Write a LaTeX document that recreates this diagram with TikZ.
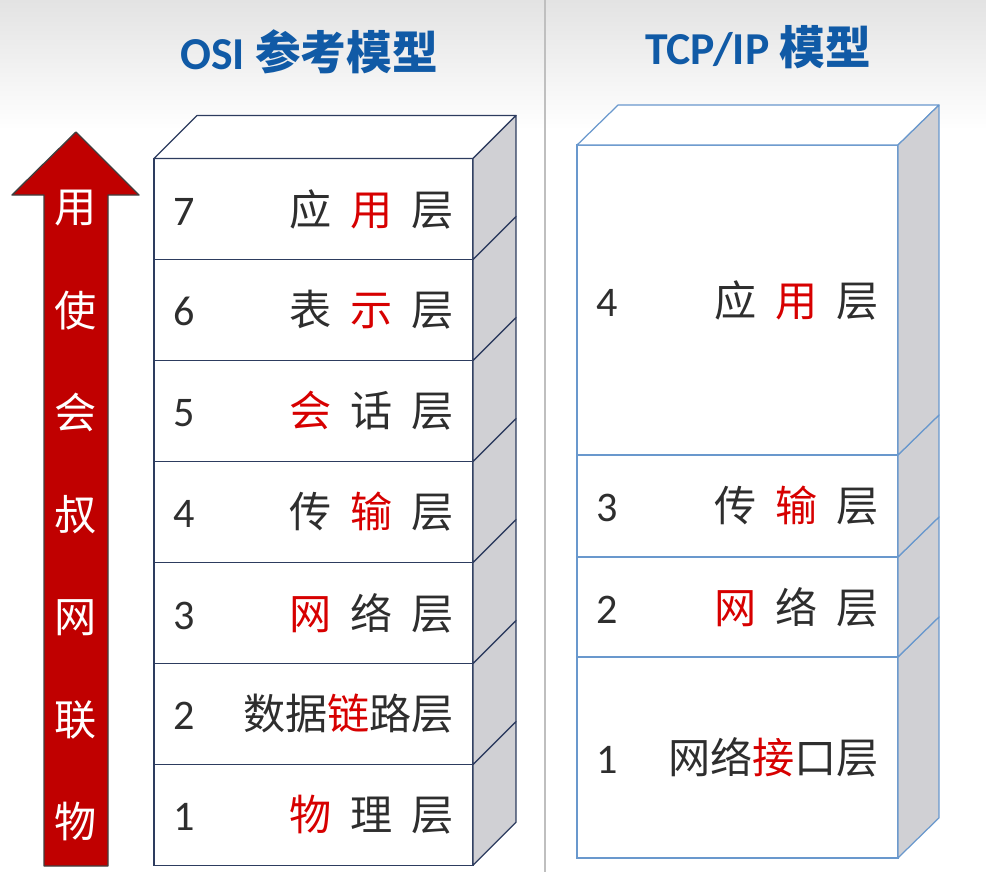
\documentclass[tikz,border=0pt]{standalone}
\usepackage{fontspec}
\setmainfont{Carlito}
\newfontfamily\cjk{Noto Sans CJK SC}
\usetikzlibrary{positioning,calc}

\definecolor{titleblue}{RGB}{16,90,166}
\definecolor{osiline}{RGB}{45,60,95}
\definecolor{tcpline}{RGB}{105,152,205}
\definecolor{hlred}{RGB}{215,0,0}
\definecolor{arrowred}{RGB}{192,0,0}
\definecolor{sidegray}{RGB}{208,208,212}

\newcommand{\hl}[1]{\textcolor{hlred}{#1}}
\newcommand{\gap}{\hspace{0.45em}}
\newcommand{\lay}[2]{#1\hfill{\cjk #2}}

\begin{document}
\begin{tikzpicture}[x=0.02cm, y=-0.02cm, node distance=0pt,
  title/.style={text=titleblue, font=\fontsize{26}{26}\selectfont\bfseries},
  layer/.style={fill=white, line width=0.7pt, inner ysep=0pt, outer sep=0pt,
    text=black!82, font=\fontsize{24}{24}\selectfont},
  osi/.style={layer, draw=osiline, minimum width=6.38cm, minimum height=2.02cm,
    inner xsep=0.38cm, text width=5.62cm},
  tcp/.style={layer, draw=tcpline, minimum width=6.42cm,
    inner xsep=0.38cm, text width=5.66cm},
  face/.style={line width=0.7pt, line join=round},
  arrowtxt/.style={text=white, font=\cjk\fontsize{24}{24}\selectfont}]
  \useasboundingbox (0,0) rectangle (986,872);
  \fill[white] (0,0) rectangle (986,872);
  \shade[top color=black!11, bottom color=white] (0,0) rectangle (986,130);
  \draw[black!25, line width=1pt] (545,0) -- (545,872);

  \node[title] (osititle) at (309,52) {OSI {\cjk 参考模型}};
  \node[title] (tcptitle) at (758,47) {TCP/IP {\cjk 模型}};

  \draw[draw=black!75, fill=arrowred, line width=0.8pt, line join=round]
    (44,866) -- (44,195) -- (12,195) -- (76,132) -- (139,195)
    -- (108,195) -- (108,866) -- cycle;
  \foreach \c [count=\i from 0] in {用,使,会,叔,网,联,物}
    \node[arrowtxt] (a\i) at (76,208+102.3*\i) {\c};

  \node[osi] (o7) at (313.5,209) {\lay{7}{应\gap\hl{用}\gap 层}};
  \node[osi, below=of o7] (o6) {\lay{6}{表\gap\hl{示}\gap 层}};
  \node[osi, below=of o6] (o5) {\lay{5}{\hl{会}\gap 话\gap 层}};
  \node[osi, below=of o5] (o4) {\lay{4}{传\gap\hl{输}\gap 层}};
  \node[osi, below=of o4] (o3) {\lay{3}{\hl{网}\gap 络\gap 层}};
  \node[osi, below=of o3] (o2) {\lay{2}{数据\hl{链}路层}};
  \node[osi, below=of o2] (o1) {\lay{1}{\hl{物}\gap 理\gap 层}};
  \draw[face, draw=osiline, fill=white] (o7.north west) -- ++(43,-43)
    -- ($(o7.north east)+(43,-43)$) -- (o7.north east) -- cycle;
  \foreach \n in {1,...,7}
    \draw[face, draw=osiline, fill=sidegray] (o\n.north east) -- ++(43,-43)
      -- ($(o\n.south east)+(43,-43)$) -- (o\n.south east) -- cycle;

  \node[tcp, minimum height=6.2cm] (t4) at (737.5,300) {\lay{4}{应\gap\hl{用}\gap 层}};
  \node[tcp, minimum height=2.04cm, below=of t4] (t3) {\lay{3}{传\gap\hl{输}\gap 层}};
  \node[tcp, minimum height=2cm, below=of t3] (t2) {\lay{2}{\hl{网}\gap 络\gap 层}};
  \node[tcp, minimum height=4.02cm, below=of t2] (t1) {\lay{1}{网络\hl{接}口层}};
  \draw[face, draw=tcpline, fill=white] (t4.north west) -- ++(41,-40)
    -- ($(t4.north east)+(41,-40)$) -- (t4.north east) -- cycle;
  \foreach \n in {1,...,4}
    \draw[face, draw=tcpline, fill=sidegray] (t\n.north east) -- ++(41,-40)
      -- ($(t\n.south east)+(41,-40)$) -- (t\n.south east) -- cycle;
\end{tikzpicture}
\end{document}
